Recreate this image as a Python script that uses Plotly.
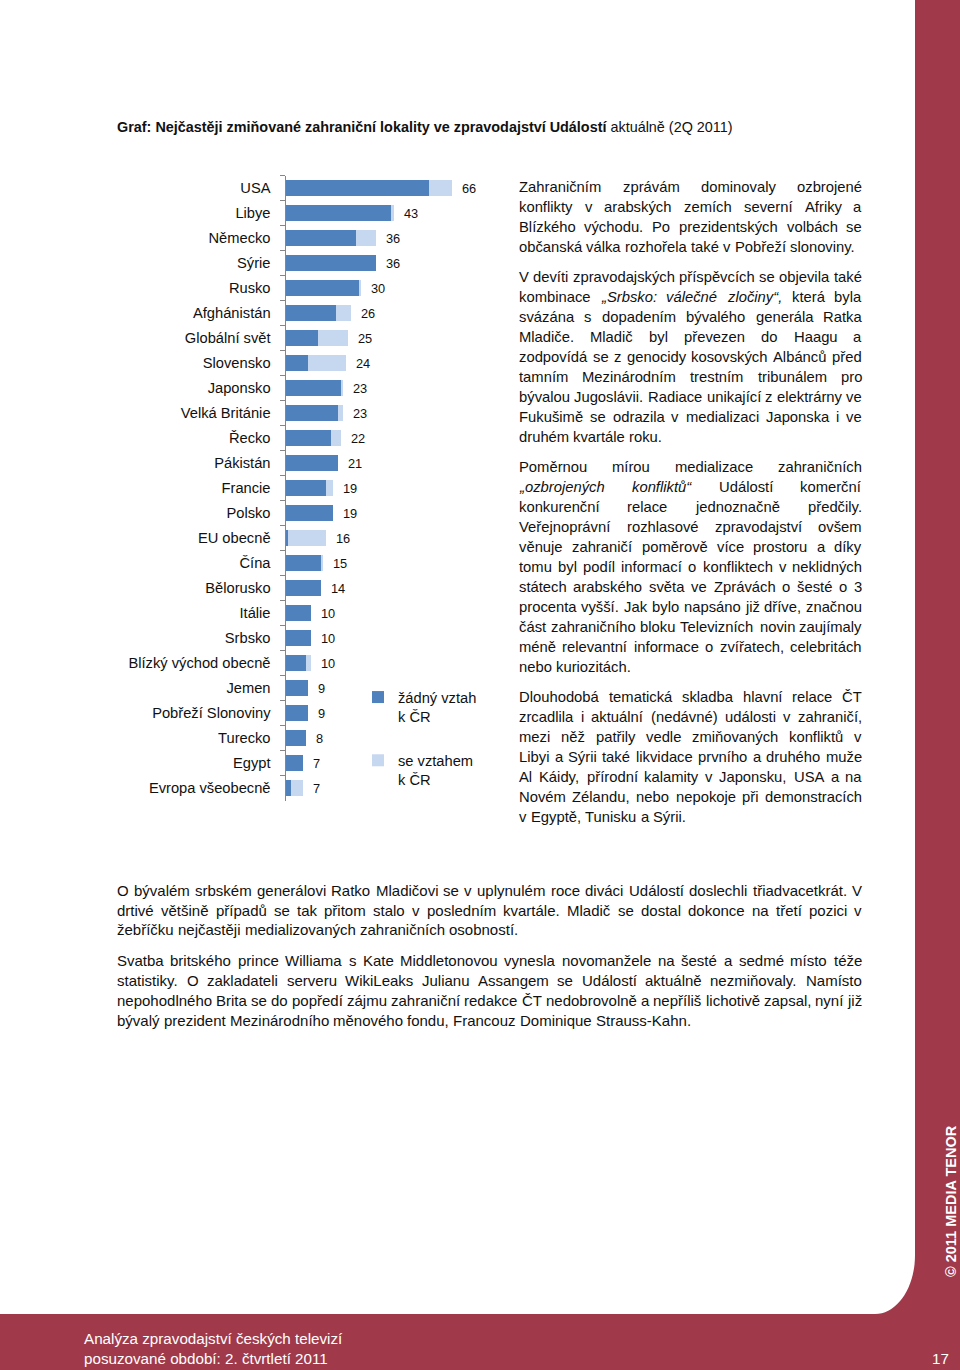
import plotly.graph_objects as go
import unicodedata

W, H = 960, 1370
FONT = "Liberation Sans, Arial, sans-serif"
TXT = "#111111"
MAROON = "#A0394A"
DARK = "#4F81BD"
LIGHT = "#C6D7F0"

# ---------------- data ----------------
categories = ["USA", "Libye", "Německo", "Sýrie", "Rusko", "Afghánistán", "Globální svět",
              "Slovensko", "Japonsko", "Velká Británie", "Řecko", "Pákistán", "Francie",
              "Polsko", "EU obecně", "Čína", "Bělorusko", "Itálie", "Srbsko",
              "Blízký východ obecně", "Jemen", "Pobřeží Slonoviny", "Turecko", "Egypt",
              "Evropa všeobecně"]
no_link = [57, 42, 28, 36, 29, 20, 13, 9, 22, 21, 18, 21, 16, 19, 1, 14, 14, 10, 10, 8, 9, 9, 8, 7, 2]
with_link = [9, 1, 8, 0, 1, 6, 12, 15, 1, 2, 4, 0, 3, 0, 15, 1, 0, 0, 0, 2, 0, 0, 0, 0, 5]
series_names = ["žádný vztah<br>k ČR", "se vztahem<br>k ČR"]
totals = [a + b for a, b in zip(no_link, with_link)]

title_bold = "Graf: Nejčastěji zmiňované zahraniční lokality ve zpravodajství Událostí"
title_rest = " aktuálně (2Q 2011)"

par1 = ["Zahraničním zprávám dominovaly ozbrojené",
        "konflikty v arabských zemích severní Afriky a",
        "Blízkého východu. Po prezidentských volbách se",
        "občanská válka rozhořela také v Pobřeží slonoviny."]
par2 = ["V devíti zpravodajských příspěvcích se objevila také",
        "kombinace <i>„Srbsko: válečné zločiny“</i>, která byla",
        "svázána s dopadením bývalého generála Ratka",
        "Mladiče. Mladič byl převezen do Haagu a",
        "zodpovídá se z genocidy kosovských Albánců před",
        "tamním Mezinárodním trestním tribunálem pro",
        "bývalou Jugoslávii. Radiace unikající z elektrárny ve",
        "Fukušimě se odrazila v medializaci Japonska i ve",
        "druhém kvartále roku."]
par3 = ["Poměrnou mírou medializace zahraničních",
        "<i>„ozbrojených konfliktů“</i> Událostí komerční",
        "konkurenční relace jednoznačně předčily.",
        "Veřejnoprávní rozhlasové zpravodajství ovšem",
        "věnuje zahraničí poměrově více prostoru a díky",
        "tomu byl podíl informací o konfliktech v neklidných",
        "státech arabského světa ve Zprávách o šesté o 3",
        "procenta vyšší. Jak bylo napsáno již dříve, značnou",
        "část zahraničního bloku Televizních novin zaujímaly",
        "méně relevantní informace o zvířatech, celebritách",
        "nebo kuriozitách."]
par4 = ["Dlouhodobá tematická skladba hlavní relace ČT",
        "zrcadlila i aktuální (nedávné) události v zahraničí,",
        "mezi něž patřily vedle zmiňovaných konfliktů v",
        "Libyi a Sýrii také likvidace prvního a druhého muže",
        "Al Káidy, přírodní kalamity v Japonsku, USA a na",
        "Novém Zélandu, nebo nepokoje při demonstracích",
        "v Egyptě, Tunisku a Sýrii."]
par5 = ["O bývalém srbském generálovi Ratko Mladičovi se v uplynulém roce diváci Událostí doslechli třiadvacetkrát. V",
        "drtivé většině případů se tak přitom stalo v posledním kvartále. Mladič se dostal dokonce na třetí pozici v",
        "žebříčku nejčastěji medializovaných zahraničních osobností."]
par6 = ["Svatba britského prince Williama s Kate Middletonovou vynesla novomanžele na šesté a sedmé místo téže",
        "statistiky. O zakladateli serveru WikiLeaks Julianu Assangem se Událostí aktuálně nezmiňovaly. Namísto",
        "nepohodlného Brita se do popředí zájmu zahraniční redakce ČT nedobrovolně a nepříliš lichotivě zapsal, nyní již",
        "bývalý prezident Mezinárodního měnového fondu, Francouz Dominique Strauss-Kahn."]

footer1 = "Analýza zpravodajství českých televizí"
footer2 = "posuzované období: 2. čtvrtletí 2011"
page_no = "17"
copyright_txt = "© 2011 MEDIA TENOR"

# ---------------- helpers (Arial / Liberation Sans advance widths) ----------------
AW = dict(zip("abcdefghijklmnopqrstuvwxyz",
              [556, 556, 500, 556, 556, 278, 556, 556, 222, 222, 500, 222, 833, 556, 556, 556, 556,
               333, 500, 278, 556, 500, 722, 500, 500, 500]))
AW.update(dict(zip("ABCDEFGHIJKLMNOPQRSTUVWXYZ",
                   [667, 667, 722, 722, 667, 611, 778, 722, 278, 500, 667, 556, 833, 722, 778, 667,
                    778, 722, 667, 611, 722, 667, 944, 667, 667, 611])))
AW.update({d: 556 for d in "0123456789"})
AW.update({" ": 278, ".": 278, ",": 278, ":": 278, ";": 278, "(": 333, ")": 333, "-": 333,
           "„": 333, "“": 333, "\"": 355, "!": 278, "?": 556, "/": 278, "©": 737,
           "í": 278, "ì": 278, "î": 278, "ï": 278, "ť": 278, "ď": 615})


def char_w(c):
    if c in AW:
        return AW[c]
    base = unicodedata.normalize("NFD", c)[0]
    return AW.get(base, 556)


def text_w(s, fs):
    return sum(char_w(c) for c in s) * fs / 1000.0


def px(x):
    return x / W


def py(y):
    return 1 - y / H


def note(text, x, y, size, color=TXT, anchor="left", **kw):
    d = dict(text=text, x=px(x), y=py(y), xref="paper", yref="paper", xanchor=anchor,
             yanchor="middle", showarrow=False, borderpad=0, borderwidth=0,
             font=dict(family=FONT, size=size, color=color))
    d.update(kw)
    return d


annotations = []


def add_par(lines, x0, x1, y0, dy, fs):
    italic = False
    for i, line in enumerate(lines):
        y = y0 + i * dy
        toks = []
        for w in line.split(" "):
            it = italic or "<i>" in w
            if "<i>" in w:
                italic = True
            if "</i>" in w:
                italic = False
            toks.append((w.replace("<i>", "").replace("</i>", ""), it))
        widths = [text_w(p, fs) for p, _ in toks]
        last = i == len(lines) - 1
        justify = (not last) and len(toks) > 1
        gap = (x1 - x0 - sum(widths)) / (len(toks) - 1) if justify else char_w(" ") * fs / 1000
        x = x0
        for k, ((p, it), wd) in enumerate(zip(toks, widths)):
            t = f"<i>{p}</i>" if it else p
            if justify and k == len(toks) - 1:
                annotations.append(note(t, x1, y, fs, anchor="right"))
            else:
                annotations.append(note(t, x, y, fs))
            x += wd + gap


# right column
RX0, RX1, RFS = 519, 862, 14.8
add_par(par1, RX0, RX1, 187, 20, RFS)
add_par(par2, RX0, RX1, 277, 20, RFS)
add_par(par3, RX0, RX1, 467, 20, RFS)
add_par(par4, RX0, RX1, 697, 20, RFS)
# bottom paragraphs
add_par(par5, 117, 862, 890, 20, 15)
add_par(par6, 117, 862, 960, 20, 15)

# title
annotations.append(note(f"<b>{title_bold}</b>{title_rest}", 117, 127, 14.4))

# value labels at bar ends (data coordinates)
for cat, tot in zip(categories, totals):
    annotations.append(dict(text=str(tot), x=tot, y=cat, xref="x", yref="y", xanchor="left",
                            yanchor="middle", xshift=10, showarrow=False, borderpad=0,
                            borderwidth=0, font=dict(family=FONT, size=12.8, color=TXT)))

# footer
annotations.append(note(footer1, 84, 1338, 15.2, color="white"))
annotations.append(note(footer2, 84, 1358, 15.2, color="white"))
annotations.append(note(page_no, 949, 1358, 15.2, color="white", anchor="right"))
annotations.append(note(f"<b>{copyright_txt}</b>", 951, 1201, 14.5, color="white",
                        anchor="center", textangle=-90))

# page shapes
cx, cy = 915, 1314
shapes = [
    dict(type="rect", xref="paper", yref="paper", x0=0, x1=1, y0=0, y1=1,
         fillcolor=MAROON, line=dict(width=0), layer="below"),
    dict(type="path", xref="paper", yref="paper", layer="below", fillcolor="white",
         line=dict(width=0),
         path=(f"M {px(0)},{py(0)} L {px(cx)},{py(0)} L {px(cx)},{py(1255)} "
               f"C {px(cx)},{py(1288)} {px(897)},{py(cy)} {px(875)},{py(cy)} "
               f"L {px(0)},{py(cy)} Z")),
]

# ---------------- figure ----------------
fig = go.Figure()
fig.add_trace(go.Bar(y=categories, x=no_link, orientation="h", name=series_names[0],
                     marker=dict(color=DARK, line=dict(width=0)), legendgroup="a"))
fig.add_trace(go.Bar(y=categories, x=with_link, orientation="h", name=series_names[1],
                     marker=dict(color=LIGHT, line=dict(width=0)), legendgroup="b"))

x_left = 285.5
scale = 2.518
xmax = 80
fig.update_layout(
    width=W, height=H, margin=dict(l=0, r=0, t=0, b=0),
    paper_bgcolor="white", plot_bgcolor="rgba(0,0,0,0)",
    barmode="stack", bargap=0.33,
    font=dict(family=FONT, color=TXT),
    xaxis=dict(domain=[px(x_left), px(x_left + xmax * scale)], range=[0, xmax],
               visible=False, fixedrange=True),
    yaxis=dict(domain=[py(800.5), py(175.5)], type="category", categoryorder="array",
               categoryarray=categories, range=[24.5, -0.5], autorange=False,
               showline=True, linecolor="#868686", linewidth=1, ticks="outside",
               tickson="boundaries", ticklen=5, tickcolor="#868686", ticklabelstandoff=11,
               tickfont=dict(family=FONT, size=14.7, color=TXT), showgrid=False,
               zeroline=False, fixedrange=True),
    showlegend=True,
    legend=dict(x=px(358), y=py(681), xanchor="left", yanchor="top", traceorder="grouped",
                tracegroupgap=22, valign="top", itemwidth=30, bgcolor="rgba(0,0,0,0)",
                font=dict(family=FONT, size=14.7, color=TXT)),
    annotations=annotations,
    shapes=shapes,
)

fig.write_html("out.html", config={"displayModeBar": False},
               post_script="document.body.style.margin='0';document.body.style.overflow='hidden';")
